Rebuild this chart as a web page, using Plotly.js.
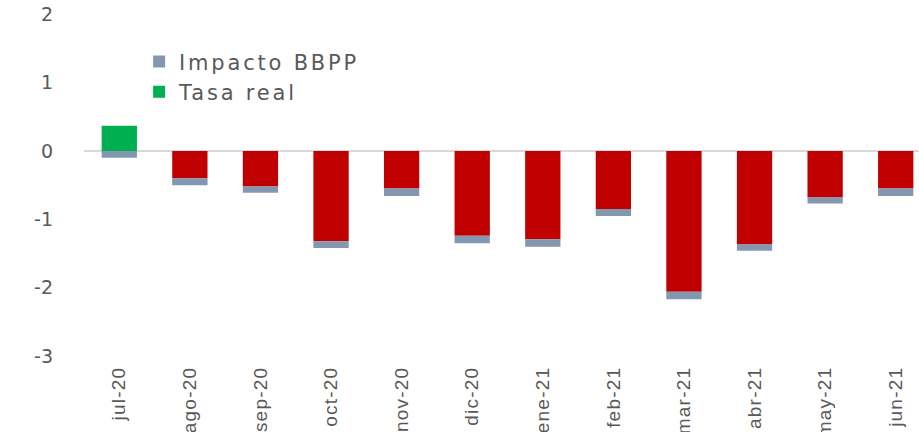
<!DOCTYPE html>
<html>
<head>
<meta charset="utf-8">
<script src="https://cdn.plot.ly/plotly-3.0.1.min.js"></script>
<style>
  html, body { margin: 0; padding: 0; background: #ffffff; }
  #chart { width: 919px; height: 432px; }
  .legendtext { letter-spacing: 2.8px; }
  .xtick text { letter-spacing: 1.2px; }
</style>
</head>
<body>
<div id="chart"></div>
<script>
// Categories (months)
const months = ["jul-20", "ago-20", "sep-20", "oct-20", "nov-20", "dic-20",
                "ene-21", "feb-21", "mar-21", "abr-21", "may-21", "jun-21"];

// Tasa real (green when positive, red when negative, as in Excel "invert if negative")
const tasaReal = [0.37, -0.40, -0.52, -1.32, -0.55, -1.24,
                  -1.29, -0.85, -2.06, -1.37, -0.68, -0.55];

// Impacto BBPP
const impactoBBPP = [-0.10, -0.10, -0.09, -0.10, -0.11, -0.11,
                     -0.11, -0.10, -0.11, -0.09, -0.09, -0.11];

// Y axis ticks
const yTicks = [2, 1, 0, -1, -2, -3];

const GREEN = "#00B050", RED = "#C00000", GREY = "#8497B0";
const tasaColors = tasaReal.map(v => v >= 0 ? GREEN : RED);

const traces = [
  {
    type: "bar", name: "Tasa real", x: months, y: tasaReal,
    marker: { color: tasaColors, line: { width: 0 } },
    legendrank: 2, hoverinfo: "x+y+name"
  },
  {
    type: "bar", name: "Impacto BBPP", x: months, y: impactoBBPP,
    marker: { color: GREY, line: { width: 0 } },
    legendrank: 1, hoverinfo: "x+y+name"
  }
];

const layout = {
  width: 919, height: 432,
  margin: { l: 84, r: 0, t: 0, b: 76, pad: 0 },
  paper_bgcolor: "#ffffff", plot_bgcolor: "#ffffff",
  barmode: "relative",
  bargap: 0.5,
  showlegend: true,
  legend: {
    x: 0.066, y: 0.884, xanchor: "left", yanchor: "top",
    bgcolor: "rgba(0,0,0,0)",
    font: { family: "DejaVu Sans, Lato, sans-serif", size: 21, color: "#595959" },
    traceorder: "normal", itemsizing: "constant"
  },
  xaxis: {
    type: "category",
    range: [-0.5, 11.33],
    tickangle: -90,
    showgrid: false, zeroline: false, showline: false,
    ticks: "", ticklabelstandoff: 6,
    tickfont: { family: "Liberation Sans, Arial, sans-serif", size: 19, color: "#595959" },
    fixedrange: true
  },
  yaxis: {
    range: [-3, 2.21],
    tickvals: yTicks,
    ticktext: yTicks.map(String),
    showgrid: false, showline: false,
    zeroline: true, zerolinecolor: "#d9d9d9", zerolinewidth: 1.5,
    ticks: "", ticklabelstandoff: 30,
    tickfont: { family: "DejaVu Sans, Lato, sans-serif", size: 19, color: "#595959" },
    fixedrange: true
  }
};

Plotly.newPlot("chart", traces, layout, { displayModeBar: false, staticPlot: true });
</script>
</body>
</html>
